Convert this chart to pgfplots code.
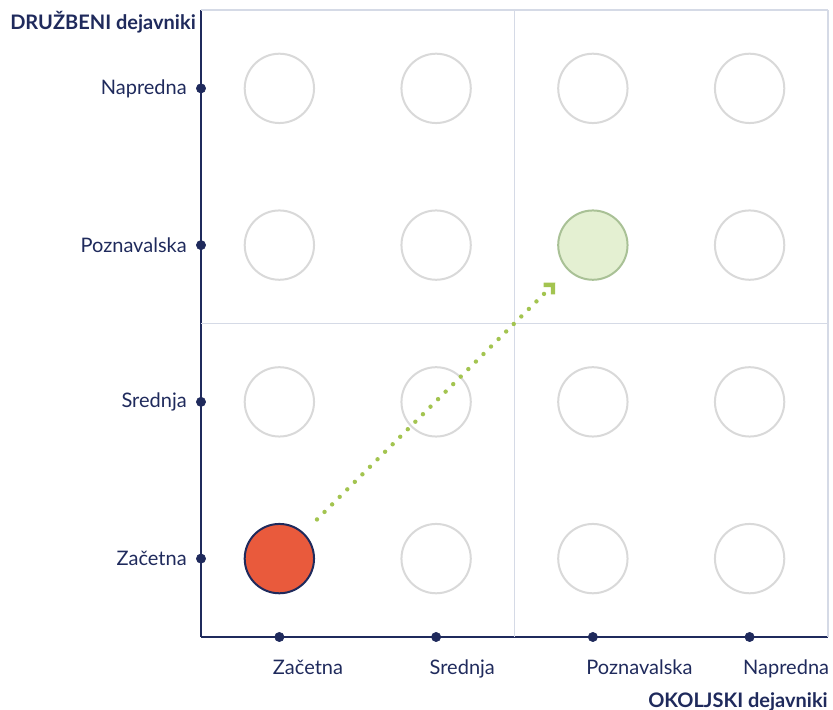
\documentclass[border=0pt]{standalone}
\usepackage{pgfplots}
\pgfplotsset{compat=1.18}
\usepackage{fontspec}
\setmainfont{Lato}
\usetikzlibrary{arrows.meta}
\definecolor{navy}{HTML}{1F2A5C}
\definecolor{oorange}{HTML}{E95A3C}
\definecolor{lgreen}{HTML}{E4F0D2}
\definecolor{lgreenb}{HTML}{A9C196}
\definecolor{agreen}{HTML}{A3C450}
\definecolor{gridc}{HTML}{D5DAE6}
\definecolor{cgray}{HTML}{D9D9D9}
\begin{document}
\begin{tikzpicture}
\path[use as bounding box] (-150.75pt,-54.75pt) rectangle (474pt,477.75pt);
\begin{axis}[
    width=470.25pt, height=470.25pt, scale only axis,
    xmin=0.5, xmax=4.5, ymin=0.5, ymax=4.5,
    axis lines=left,
    axis line style={-, navy, line width=1.5pt},
    xtick={1,2,3,4}, ytick={1,2,3,4},
    xticklabels={Začetna,Srednja,Poznavalska,Napredna},
    yticklabels={Začetna,Srednja,Poznavalska,Napredna},
    major tick length=0pt,
    tick label style={font=\fontsize{15}{18}\selectfont, text=navy},
    xticklabel style={anchor=north west, inner sep=0pt, xshift=-5pt, yshift=-17pt},
    yticklabel style={anchor=east, inner sep=0pt, xshift=-10.5pt},
    extra x ticks={2.5,4.5}, extra y ticks={2.5,4.5},
    extra x tick labels={}, extra y tick labels={},
    extra tick style={grid=major, major grid style={gridc, line width=1pt}},
    clip=false, clip marker paths=true,
]
% empty level circles
\addplot[only marks, mark=*, mark size=26pt, mark options={draw=cgray, fill=white, line width=1.5pt}]
  coordinates {(1,2)(1,3)(1,4)(2,1)(2,2)(2,3)(2,4)(3,1)(3,2)(3,4)(4,1)(4,2)(4,3)(4,4)};
% current level
\addplot[only marks, mark=*, mark size=26pt, mark options={draw=navy, fill=oorange, line width=1.5pt}]
  coordinates {(1,1)};
% target level
\addplot[only marks, mark=*, mark size=26pt, mark options={draw=lgreenb, fill=lgreen, line width=1.5pt}]
  coordinates {(3,3)};
% arrow
\addplot[agreen, line width=3.3pt, line cap=round, dash pattern=on 0pt off 8pt,
  -{Straight Barb[angle=90:7pt, line width=3.3pt]}]
  coordinates {(1.24,1.25)(2.76,2.76)};
% tick dots
\addplot[only marks, mark=*, mark size=3.5pt, navy] coordinates {(1,0.5)(2,0.5)(3,0.5)(4,0.5)};
\addplot[only marks, mark=*, mark size=3.5pt, navy] coordinates {(0.5,1)(0.5,2)(0.5,3)(0.5,4)};
\end{axis}
\node[anchor=west, inner sep=0pt, text=navy, font=\fontsize{15}{18}\selectfont\bfseries] at (-143.25pt,461.25pt) {DRUŽBENI dejavniki};
\node[anchor=east, inner sep=0pt, text=navy, font=\fontsize{15}{18}\selectfont\bfseries] at (470.25pt,-48.5pt) {OKOLJSKI dejavniki};
\end{tikzpicture}
\end{document}
